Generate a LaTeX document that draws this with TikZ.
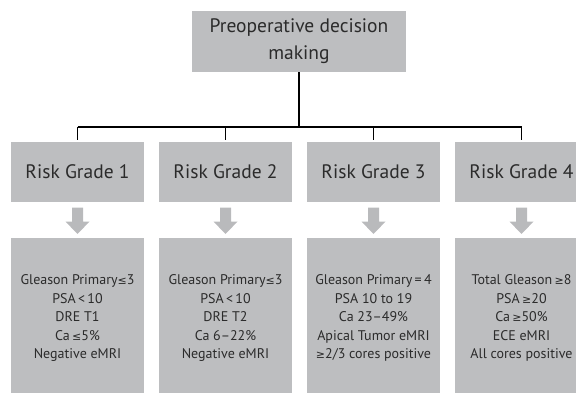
\documentclass[tikz,border=0pt]{standalone}
\usepackage{fontspec}
\setmainfont{PT Sans}
\newfontfamily\symfont{DejaVu Sans}
\usetikzlibrary{calc}
\definecolor{boxgray}{HTML}{BDBEC0}
\definecolor{arrgray}{HTML}{B9BABC}
\definecolor{txt}{HTML}{2B2B2B}
\newcommand{\LE}{{\symfont\fontsize{11}{11}\selectfont ≤}}
\newcommand{\GE}{{\symfont\fontsize{11}{11}\selectfont ≥}}
\begin{document}
\begin{tikzpicture}[x=1pt,y=-1pt,
  gbox/.style={fill=boxgray,inner sep=0pt,text=txt,align=center},
  headbox/.style={gbox,minimum width=214pt,minimum height=61pt,font=\fontsize{19.5}{27}\selectfont},
  riskbox/.style={gbox,minimum width=133pt,minimum height=60pt,font=\fontsize{19.5}{24}\selectfont},
  critbox/.style={gbox,minimum width=133pt,minimum height=160pt,font=\fontsize{14}{18.5}\selectfont},
  conn/.style={draw=black,line width=1.1pt},
  blockarrow/.style={fill=arrgray}]
\useasboundingbox (0,0) rectangle (576,392);
\clip (0,0) rectangle (576,392);
\node[headbox] (top) at (299,41.5) {Preoperative decision\\making};
\foreach \i/\x in {1/77.5,2/225.5,3/373.5,4/521.5}{
  \node[riskbox] (r\i) at (\x,172) {Risk Grade \i};
}
\node[critbox] (c1) at (77.5,318) {Gleason Primary\LE3\\PSA\,<\,10\\DRE T1\\Ca\,\LE5\%\\Negative eMRI};
\node[critbox] (c2) at (225.5,318) {Gleason Primary\LE3\\PSA\,<\,10\\DRE T2\\Ca 6--22\%\\Negative eMRI};
\node[critbox] (c3) at (373.5,318) {Gleason Primary\,=\,4\\PSA 10 to 19\\Ca 23--49\%\\Apical Tumor eMRI\\\GE2/3 cores positive};
\node[critbox] (c4) at (521.5,318) {Total Gleason\,\GE8\\PSA\,\GE20\\Ca\,\GE50\%\\ECE eMRI\\All cores positive};
\coordinate (bus) at (299,127);
\draw[conn] (top.south) -- (bus);
\draw[conn] (r1.north |- bus) -- (r4.north |- bus);
\foreach \i in {1,...,4}{
  \draw[conn] (r\i.north |- bus) -- ($(r\i.north)+(0,-2)$);
  \fill[blockarrow] ($(r\i.south)+(-5.5,5.5)$) -- ($(r\i.south)+(5.5,5.5)$) -- ($(r\i.south)+(5.5,19.5)$)
     -- ($(r\i.south)+(12,19.5)$) -- ($(c\i.north)+(0,-4)$) -- ($(r\i.south)+(-12,19.5)$)
     -- ($(r\i.south)+(-5.5,19.5)$) -- cycle;
}
\end{tikzpicture}
\end{document}
